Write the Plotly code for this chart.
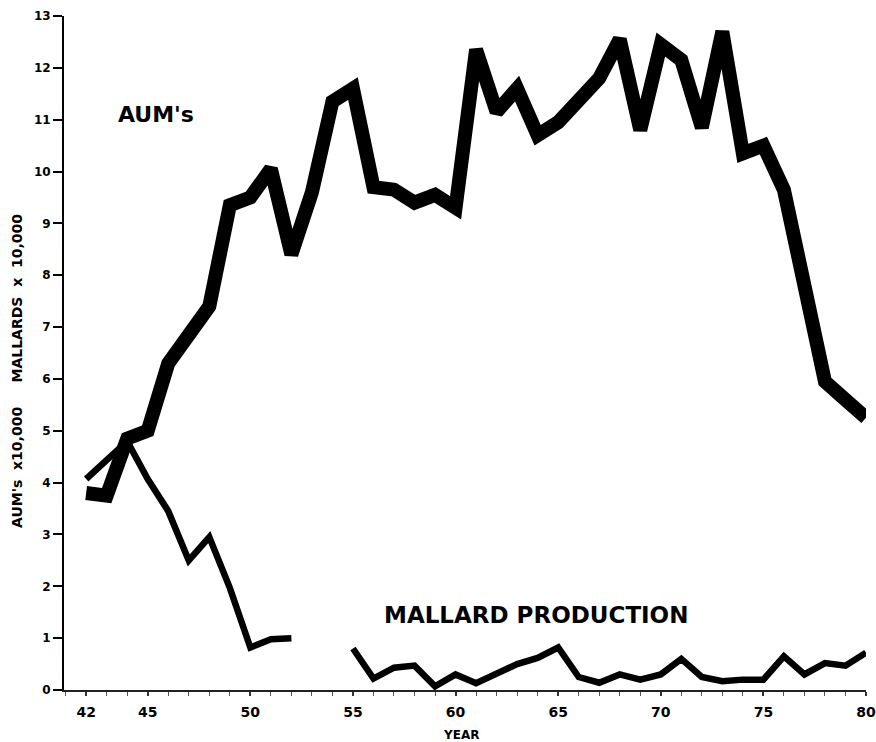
import plotly.graph_objects as go

years = list(range(42, 81))

aums = [3.8, 3.75, 4.85, 5.0, 6.3, 6.85, 7.4, 9.35, 9.5, 10.05,
        8.4, 9.6, 11.35, 11.6, 9.7, 9.65, 9.4, 9.55, 9.3, 12.35,
        11.15, 11.6, 10.7, 10.95, 11.35, 11.8, 12.55, 10.8, 12.45, 12.15,
        10.85, 12.7, 10.35, 10.5, 9.65, 7.8, 5.95, 5.6, 5.25]

mallards = [4.07, 4.45, 4.8, 4.07, 3.45, 2.5, 2.95, 1.97, 0.82, 0.98,
            1.0, None, None, 0.8, 0.22, 0.43, 0.47, 0.07, 0.3, 0.13,
            0.33, 0.5, 0.62, 0.82, 0.25, 0.14, 0.3, 0.2, 0.3, 0.6,
            0.25, 0.17, 0.2, 0.2, 0.65, 0.3, 0.52, 0.47, 0.72]

x_tickvals = [42, 45, 50, 55, 60, 65, 70, 75, 80]
y_tickvals = list(range(0, 14))

FONT = "DejaVu Sans"

PW, PH = 876, 742
ML, MR, MT, MB = 64, 10, 16, 52
plot_w = PW - ML - MR
plot_h = PH - MT - MB


def px(xpage):
    return (xpage - ML) / plot_w


def py(ypage):
    return (PH - MB - ypage) / plot_h


fig = go.Figure()
fig.add_trace(go.Scatter(x=years, y=aums, mode="lines", name="AUM's",
                         line=dict(color="black", width=14)))
fig.add_trace(go.Scatter(x=years, y=mallards, mode="lines", name="Mallard production",
                         line=dict(color="black", width=6.5), connectgaps=False))

fig.update_layout(
    width=PW, height=PH,
    margin=dict(l=ML, r=MR, t=MT, b=MB, autoexpand=False),
    paper_bgcolor="white", plot_bgcolor="white",
    showlegend=False,
    font=dict(family=FONT, color="black"),
)
fig.update_xaxes(range=[40.92, 80.0], tickvals=x_tickvals,
                 ticktext=[str(v) for v in x_tickvals],
                 automargin=False,
                 showgrid=False, zeroline=False,
                 showline=True, linecolor="#222", linewidth=1.5,
                 ticks="outside", ticklen=4, tickwidth=1.5, tickcolor="#333",
                 ticklabelstandoff=4,
                 minor=dict(tick0=41, dtick=1, ticks="outside", ticklen=4,
                            tickwidth=1, tickcolor="#555", showgrid=False),
                 tickfont=dict(family=FONT, size=14, weight="bold", color="black"))
fig.update_yaxes(range=[0, 13], tickvals=y_tickvals,
                 automargin=False,
                 showgrid=False, zeroline=False,
                 showline=True, linecolor="black", linewidth=2,
                 ticks="outside", ticklen=9, tickwidth=2, tickcolor="black",
                 tickfont=dict(family=FONT, size=12, weight="bold", color="black"))

fig.add_annotation(text="AUM's", xref="paper", yref="paper",
                   x=px(156), y=py(114.5),
                   showarrow=False, xanchor="center", yanchor="middle",
                   font=dict(family=FONT, size=22, weight="bold", color="black"))
fig.add_annotation(text="MALLARD PRODUCTION", xref="paper", yref="paper",
                   x=px(536), y=py(615),
                   showarrow=False, xanchor="center", yanchor="middle",
                   font=dict(family=FONT, size=23, weight="bold", color="black"))
fig.add_annotation(text="AUM's  x10,000     MALLARDS  x  10,000", xref="paper", yref="paper",
                   x=px(17), y=py(371), textangle=-90,
                   showarrow=False, xanchor="center", yanchor="middle",
                   font=dict(family=FONT, size=14, weight="bold", color="black"))
fig.add_annotation(text="YEAR", xref="paper", yref="paper",
                   x=px(461), y=py(735),
                   showarrow=False, xanchor="center", yanchor="middle",
                   font=dict(family=FONT, size=12, weight="bold", color="black"))

fig.write_html("out.html",
               config={"displayModeBar": False},
               post_script="document.body.style.margin='0';"
                           "document.body.style.overflow='hidden';")
